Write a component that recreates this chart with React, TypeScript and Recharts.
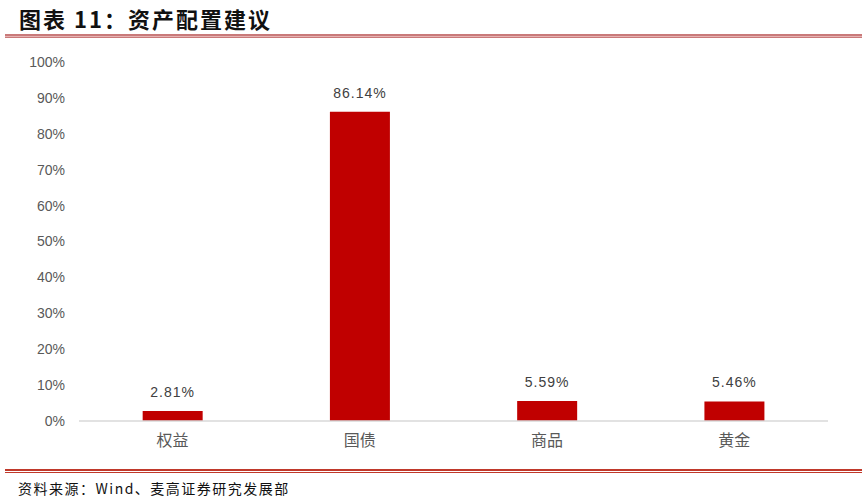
import React from "react";
import { BarChart, Bar, XAxis, YAxis, LabelList } from "recharts";

// 资产配置建议 (%)
const categories = ["权益", "国债", "商品", "黄金"];
const weights = [2.81, 86.14, 5.59, 5.46];
const yTicks = [0, 10, 20, 30, 40, 50, 60, 70, 80, 90, 100];

const data = categories.map((name, i) => ({ name, value: weights[i] }));

const CJK = '"Noto Sans CJK SC", "Liberation Sans", sans-serif';
const LATIN = '"Liberation Sans", Arial, sans-serif';

export default function App() {
  return (
    <div style={{ position: "absolute", left: 0, top: 0, width: 867, height: 501, background: "#fff" }}>
      <div
        style={{
          position: "absolute",
          left: 19,
          top: 4,
          fontFamily: CJK,
          fontWeight: 700,
          fontSize: 22,
          letterSpacing: 2,
          color: "#111",
          lineHeight: "28px",
          whiteSpace: "nowrap",
        }}
      >
        图表 11：资产配置建议
      </div>
      {/* header rule */}
      <div style={{ position: "absolute", left: 5, top: 34, width: 857, height: 4, background: "#c97a7a" }} />
      <div style={{ position: "absolute", left: 5, top: 35.5, width: 857, height: 1, background: "#e6b3b3" }} />

      <div style={{ position: "absolute", left: 0, top: 0 }}>
        <BarChart
          width={867}
          height={501}
          data={data}
          margin={{ top: 62, right: 39, bottom: 50, left: 0 }}
          barCategoryGap="34%"
        >
          <YAxis
            width={79}
            domain={[0, 100]}
            ticks={yTicks}
            interval={0}
            axisLine={false}
            tickLine={false}
            tickSize={6}
            tickMargin={8}
            tickFormatter={(v: number) => `${v}%`}
            tick={{ fill: "#595959", fontSize: 14, fontFamily: LATIN }}
          />
          <XAxis
            dataKey="name"
            height={30}
            axisLine={{ stroke: "#d9d9d9", strokeWidth: 1.5 }}
            tickLine={false}
            tickSize={6}
            tickMargin={8}
            tick={{ fill: "#595959", fontSize: 16, fontFamily: CJK }}
          />
          <Bar dataKey="value" fill="#c00000" isAnimationActive={false}>
            <LabelList
              dataKey="value"
              position="top"
              offset={14}
              formatter={(v: number) => `${v.toFixed(2)}%`}
              style={{ fill: "#404040", fontSize: 14, fontFamily: LATIN, letterSpacing: 1 }}
            />
          </Bar>
        </BarChart>
      </div>

      {/* footer rules */}
      <div style={{ position: "absolute", left: 5, top: 469, width: 857, height: 2, background: "#c0392b" }} />
      <div style={{ position: "absolute", left: 5, top: 472, width: 857, height: 1, background: "#c0392b" }} />
      <div
        style={{
          position: "absolute",
          left: 18,
          top: 478,
          fontFamily: CJK,
          fontSize: 14,
          letterSpacing: 1.5,
          color: "#111",
          lineHeight: "20px",
          whiteSpace: "nowrap",
        }}
      >
        资料来源：Wind、麦高证券研究发展部
      </div>
    </div>
  );
}
